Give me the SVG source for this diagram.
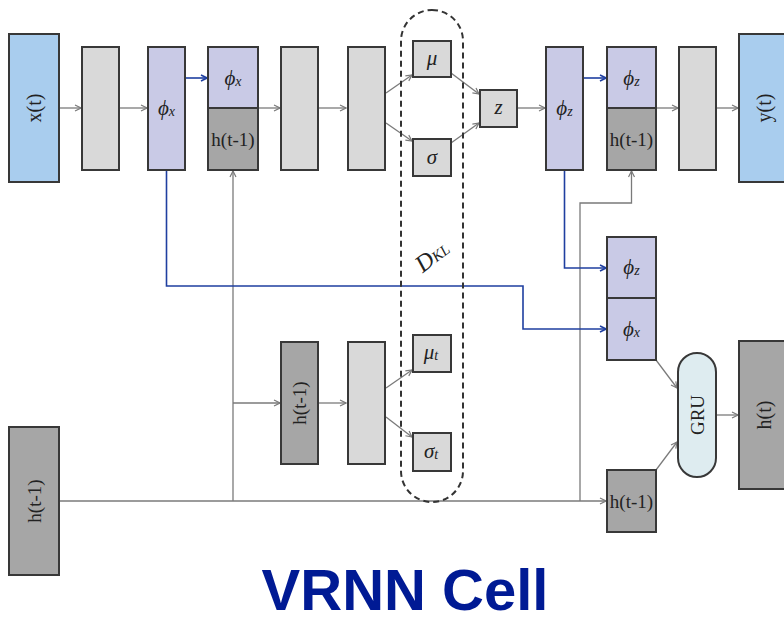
<svg xmlns="http://www.w3.org/2000/svg" width="784" height="622" viewBox="0 0 784 622">
<defs>
<marker id="ag" viewBox="0 0 8 8" refX="7" refY="4" markerWidth="8" markerHeight="8" markerUnits="userSpaceOnUse" orient="auto"><path d="M1,1 L7,4 L1,7" fill="none" stroke="#7a7a7a" stroke-width="1.2"/></marker>
<marker id="ab" viewBox="0 0 8 8" refX="7" refY="4" markerWidth="8" markerHeight="8" markerUnits="userSpaceOnUse" orient="auto"><path d="M1,1 L7,4 L1,7" fill="none" stroke="#1f3fa0" stroke-width="1.6"/></marker>
<style>
.b{stroke:#383838;stroke-width:2}
.blue{fill:#a9cdee}
.lg{fill:#d9d9d9}
.pu{fill:#c9cae6}
.dg{fill:#a6a6a6}
.gru{fill:#deecf0}
.g{fill:none;stroke:#7a7a7a;stroke-width:1.3;marker-end:url(#ag)}
.gn{fill:none;stroke:#7a7a7a;stroke-width:1.3}
.bl{fill:none;stroke:#1f3fa0;stroke-width:1.6;marker-end:url(#ab)}
.t{font-family:"Liberation Serif","DejaVu Serif",serif;font-size:19px;fill:#222;text-anchor:middle;dominant-baseline:central}
.m{font-family:"Liberation Serif","DejaVu Serif",serif;font-style:italic;font-size:21px;fill:#222;text-anchor:middle;dominant-baseline:central}
.s{font-size:14px}
</style>
</defs>
<g id="connectors">
<path class="g" d="M59,108 H81"/>
<path class="g" d="M119,108 H147"/>
<path class="bl" d="M185,78 H207"/>
<path class="g" d="M258,108 H280"/>
<path class="g" d="M318,108 H346"/>
<path class="g" d="M386,93 L412,75"/>
<path class="g" d="M386,123 L412,141"/>
<path class="g" d="M451,73 L479,94"/>
<path class="g" d="M451,143 L479,123"/>
<path class="g" d="M517,108 H545"/>
<path class="bl" d="M583,78 H606"/>
<path class="g" d="M656,108 H678"/>
<path class="g" d="M716,108 H738"/>
<path class="gn" d="M233,501 V404"/>
<path class="g" d="M233,404 V171"/>
<path class="g" d="M233,403 H280"/>
<path class="g" d="M59,501 H606"/>
<path class="g" d="M580,501 V203 H631.5 V171"/>
<path class="bl" d="M166.5,170 V286 H523 V329 H606"/>
<path class="bl" d="M564.5,170 V268 H606"/>
<path class="g" d="M318,403 H346"/>
<path class="g" d="M386,388 L412,370"/>
<path class="g" d="M386,417 L412,437"/>
<path class="g" d="M656,360 L677,388"/>
<path class="g" d="M656,470 L677,442"/>
<path class="g" d="M716,415 H738"/>
</g>
<g id="kl">
<rect x="401" y="10" width="62" height="492" rx="31" fill="none" stroke="#333" stroke-width="2" stroke-dasharray="6,4"/>
<text class="m" transform="translate(432,256) rotate(-38)" style="font-size:24px">D<tspan style="font-size:15px" dy="3">KL</tspan></text>
</g>
<g id="xt"><rect class="b blue" x="9" y="34" width="50" height="148"/><text class="t" transform="translate(34,108) rotate(-90)" style="font-size:20px">x(t)</text></g>
<g id="enc1"><rect class="b lg" x="82" y="47" width="37" height="123"/></g>
<g id="phix"><rect class="b pu" x="148" y="47" width="37" height="123"/><text class="m" x="166.5" y="108">ϕ<tspan class="s" dy="3">x</tspan></text></g>
<g id="cat1">
<rect class="b pu" x="208" y="47" width="50" height="61"/><text class="m" x="233" y="78">ϕ<tspan class="s" dy="3">x</tspan></text>
<rect class="b dg" x="208" y="108" width="50" height="62"/><text class="t" x="233" y="139">h(t-1)</text>
</g>
<g id="enc2"><rect class="b lg" x="281" y="47" width="37" height="123"/></g>
<g id="enc3"><rect class="b lg" x="348" y="47" width="37" height="123"/></g>
<g id="mu"><rect class="b lg" x="413" y="41" width="38" height="36"/><text class="m" x="432" y="58">μ</text></g>
<g id="sigma"><rect class="b lg" x="413" y="139" width="38" height="37"/><text class="m" x="432" y="157">σ</text></g>
<g id="z"><rect class="b lg" x="480" y="90" width="37" height="37"/><text class="m" x="498.5" y="107">z</text></g>
<g id="phiz"><rect class="b pu" x="546" y="47" width="37" height="123"/><text class="m" x="564.5" y="108">ϕ<tspan class="s" dy="3">z</tspan></text></g>
<g id="cat2">
<rect class="b pu" x="607" y="47" width="49" height="61"/><text class="m" x="631.5" y="78">ϕ<tspan class="s" dy="3">z</tspan></text>
<rect class="b dg" x="607" y="108" width="49" height="62"/><text class="t" x="631.5" y="139">h(t-1)</text>
</g>
<g id="dec"><rect class="b lg" x="679" y="47" width="37" height="123"/></g>
<g id="yt"><rect class="b blue" x="739" y="34" width="52" height="148"/><text class="t" transform="translate(764,108) rotate(-90)" style="font-size:20px">y(t)</text></g>
<g id="hprev"><rect class="b dg" x="9" y="427" width="50" height="148"/><text class="t" transform="translate(34,501) rotate(-90)">h(t-1)</text></g>
<g id="prior1"><rect class="b dg" x="281" y="342" width="37" height="122"/><text class="t" transform="translate(299.5,403) rotate(-90)">h(t-1)</text></g>
<g id="prior2"><rect class="b lg" x="348" y="342" width="37" height="122"/></g>
<g id="mut"><rect class="b lg" x="413" y="335" width="38" height="37"/><text class="m" x="431" y="352">μ<tspan class="s" dy="3">t</tspan></text></g>
<g id="sigmat"><rect class="b lg" x="413" y="433" width="38" height="38"/><text class="m" x="431" y="451">σ<tspan class="s" dy="3">t</tspan></text></g>
<g id="cat3">
<rect class="b pu" x="607" y="237" width="49" height="61"/><text class="m" x="631.5" y="267">ϕ<tspan class="s" dy="3">z</tspan></text>
<rect class="b pu" x="607" y="298" width="49" height="62"/><text class="m" x="631.5" y="329">ϕ<tspan class="s" dy="3">x</tspan></text>
</g>
<g id="hsmall"><rect class="b dg" x="607" y="470" width="49" height="62"/><text class="t" x="631.5" y="501">h(t-1)</text></g>
<g id="gru"><rect class="b gru" x="678" y="353" width="38" height="124" rx="19"/><text class="t" transform="translate(697,415) rotate(-90)">GRU</text></g>
<g id="ht"><rect class="b dg" x="739" y="341" width="52" height="148"/><text class="t" transform="translate(764,415) rotate(-90)" style="font-size:20px">h(t)</text></g>
<text x="405" y="610" font-family="Liberation Sans, Arial, sans-serif" font-weight="bold" font-size="58" fill="#001a94" text-anchor="middle">VRNN Cell</text>
</svg>
